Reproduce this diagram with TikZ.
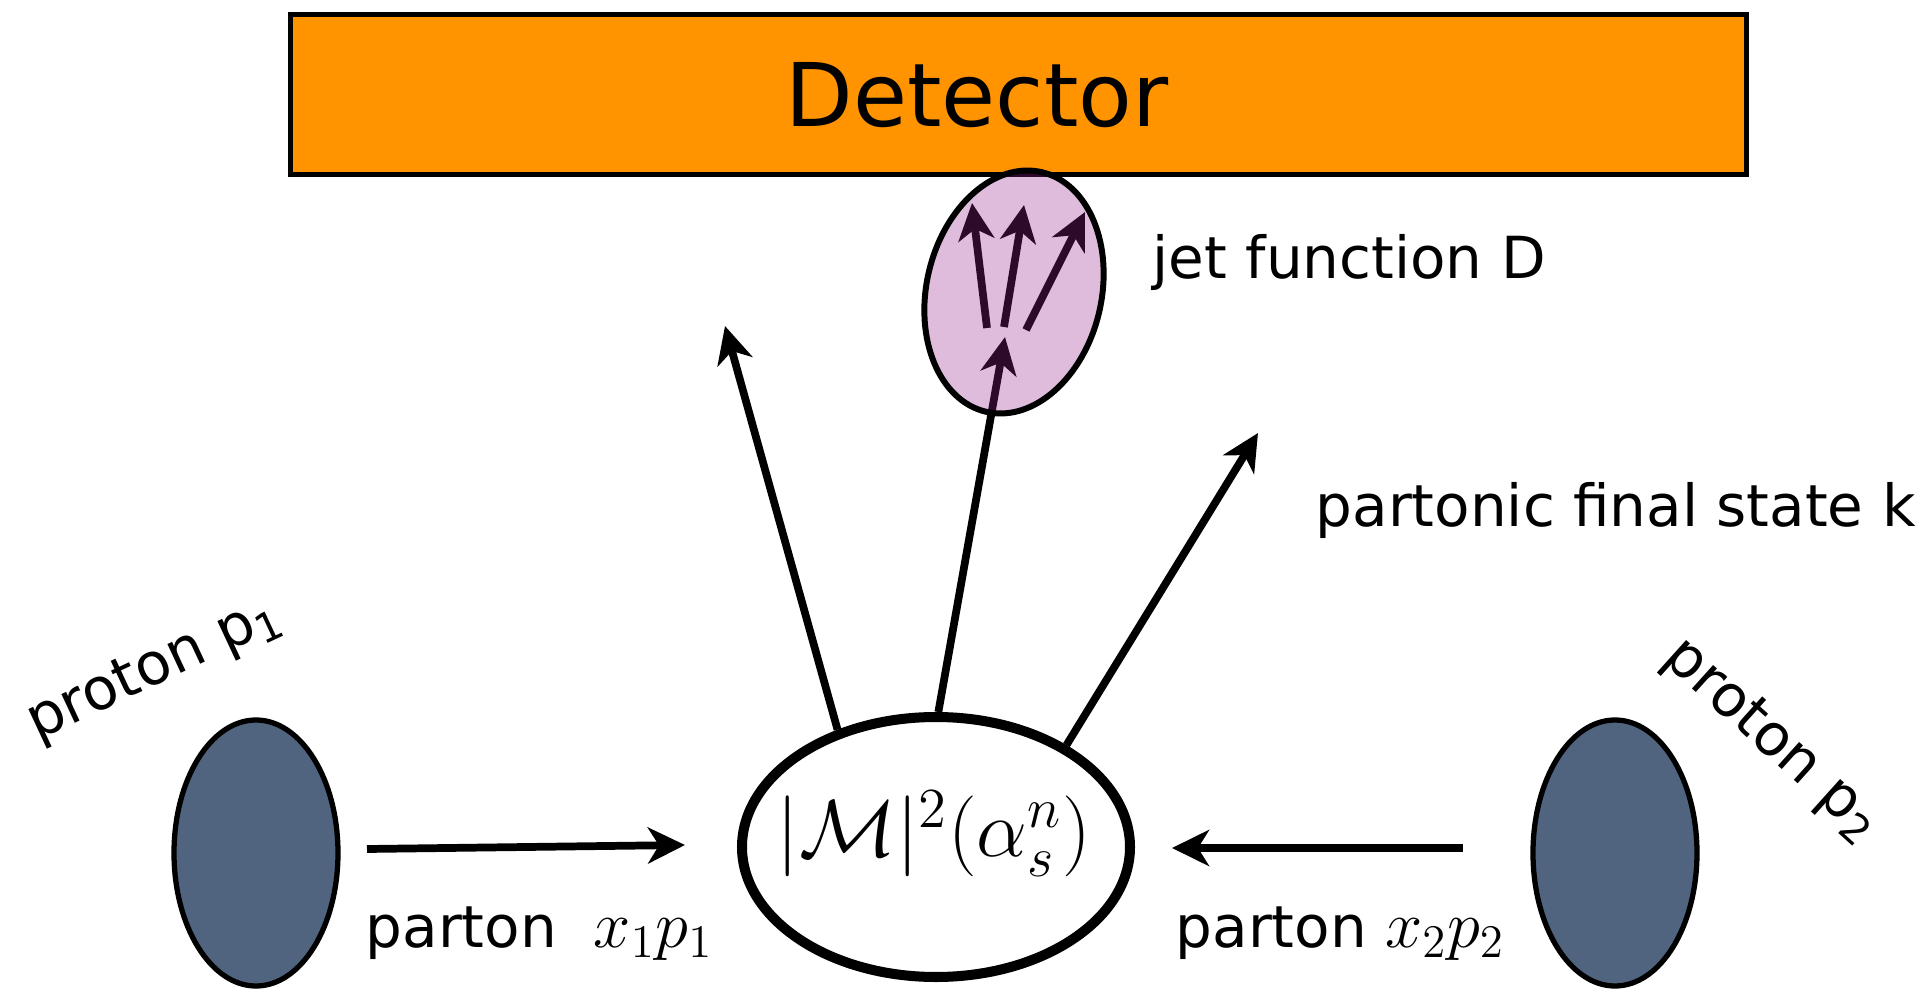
\RequirePackage{fix-cm}
\documentclass[tikz,border=0pt]{standalone}
\usepackage[no-math]{fontspec}
\setmainfont{DejaVu Sans}
\usetikzlibrary{shapes.geometric,arrows.meta}

\definecolor{detorange}{RGB}{255,147,0}
\definecolor{protonblue}{RGB}{80,100,128}
\definecolor{jetpink}{RGB}{150,33,140}

\begin{document}
\begin{tikzpicture}[
    lbl/.style={font=\fontsize{16.5}{20}\selectfont, inner sep=0pt},
    blob/.style={ellipse, draw, line width=1.5pt, fill=protonblue,
      minimum width=1.64cm, minimum height=2.66cm},
    leg/.style={-{Stealth[length=0.37cm,width=0.36cm,inset=0.11cm]}, line width=2.2pt},
  ]
  \useasboundingbox (0,0) rectangle (19.27,9.89);

  % DETECTOR
  \node[draw, line width=1.4pt, fill=detorange,
    minimum width=14.56cm, minimum height=1.6cm] (det) at (10.185,8.945) {};
  \node[font=\fontsize{25}{30}\selectfont] (dettxt) at (9.77,8.94) {Detector};

  % PROTONS AND HARD PART
  \node[blob] (p1) at (2.56,1.36) {};
  \node[blob] (p2) at (16.15,1.36) {};
  \node[ellipse, draw, line width=2.85pt,
    minimum width=3.88cm, minimum height=2.6cm] (hard) at (9.36,1.42) {};
  \node[font=\fontsize{23}{27}\selectfont] (hardtxt) at (9.34,1.55)
    {$|\mathcal{M}|^2(\alpha_s^n)$};

  % free ends
  \coordinate (out1)  at (7.25,6.63);
  \coordinate (jetin) at (10.05,6.52);
  \coordinate (out3)  at (12.58,5.56);
  \coordinate (beam1) at (3.67,1.40);
  \coordinate (hit1)  at (6.85,1.44);
  \coordinate (beam2) at (14.63,1.41);
  \coordinate (hit2)  at (11.72,1.41);
  \coordinate (s1) at (9.87,6.61);
  \coordinate (s2) at (10.04,6.62);
  \coordinate (s3) at (10.26,6.59);
  \coordinate (t1) at (9.72,7.86);
  \coordinate (t2) at (10.24,7.84);
  \coordinate (t3) at (10.85,7.77);

  % ARROWS
  \draw[leg] (beam1) -- (hit1);
  \draw[leg] (beam2) -- (hit2);
  \draw[leg] (hard.130) -- (out1);
  \draw[leg] (hard.89)  -- (jetin);
  \draw[leg] (hard.38)  -- (out3);

  \draw[leg] (s1) -- (t1);
  \draw[leg] (s2) -- (t2);
  \draw[leg] (s3) -- (t3);

  % jet on top, see-through
  \node[ellipse, draw, line width=1.7pt, fill=jetpink, fill opacity=0.3,
    minimum width=1.75cm, minimum height=2.46cm, rotate=-13] (jet) at (10.14,6.97) {};

  % NOTES
  \node[lbl, anchor=west] (jetlbl) at (11.52,7.27) {jet function D};
  \node[lbl, anchor=west] (finlbl) at (13.15,4.79) {partonic final state k};
  \node[lbl, rotate=25]  (p1lbl) at (1.55,3.19) {proton p\textsubscript{1}};
  \node[lbl, rotate=-42] (p2lbl) at (17.72,2.48) {proton p\textsubscript{2}};
  \node[lbl, anchor=base west] (x1lbl) at (3.65,0.42)
    {parton\ \ {\fontsize{19}{22}\selectfont$x_1p_1$}};
  \node[lbl, anchor=base west] (x2lbl) at (11.75,0.42)
    {parton {\fontsize{19}{22}\selectfont$x_2p_2$}};

\end{tikzpicture}
\end{document}
